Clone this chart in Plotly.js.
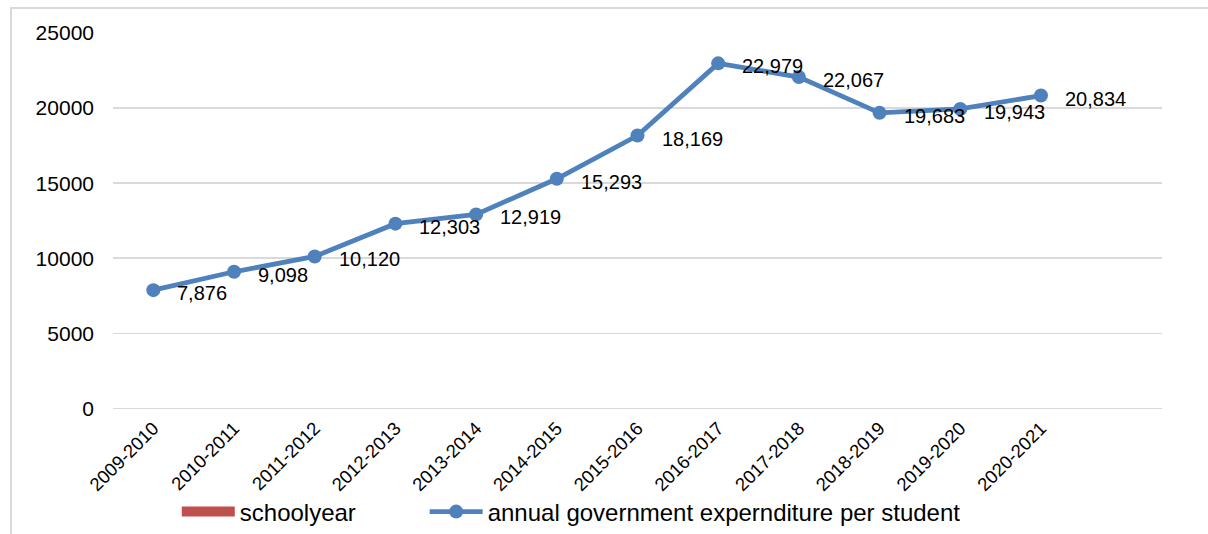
<!DOCTYPE html>
<html>
<head>
<meta charset="utf-8">
<script src="https://cdn.plot.ly/plotly-3.0.1.min.js"></script>
<style>
  html, body { margin: 0; padding: 0; background: #fff; }
  #wrap { position: relative; width: 1208px; height: 534px; overflow: hidden; }
  #chart { position: absolute; left: 0; top: 0; width: 1208px; height: 534px; }
  #frame { position: absolute; left: 10px; top: 7px; width: 1210px; height: 540px;
           border-left: 2px solid #d9d9d9; border-top: 2px solid #d9d9d9; pointer-events: none; }
</style>
</head>
<body>
<div id="wrap">
  <div id="chart"></div>
  <div id="frame"></div>
</div>
<script>
const schoolYears = ["2009-2010","2010-2011","2011-2012","2012-2013","2013-2014","2014-2015",
                     "2015-2016","2016-2017","2017-2018","2018-2019","2019-2020","2020-2021"];
const expenditurePerStudent = [7876, 9098, 10120, 12303, 12919, 15293,
                               18169, 22979, 22067, 19683, 19943, 20834];
const yTickValues = [0, 5000, 10000, 15000, 20000, 25000];
const seriesNames = ["schoolyear", "annual government expernditure per student"];

const BLUE = "#4F81BD";
const RED = "#C0504D";
const FONT = "Liberation Sans, Arial, sans-serif";

const traces = [
  {
    type: "scatter",
    mode: "lines",
    name: seriesNames[0],
    legend: "legend",
    x: schoolYears,
    y: schoolYears.map(() => null),
    line: { color: RED, width: 12 },
    hoverinfo: "skip"
  },
  {
    type: "scatter",
    mode: "lines+markers",
    name: seriesNames[1],
    legend: "legend2",
    x: schoolYears,
    y: expenditurePerStudent,
    line: { color: BLUE, width: 4.8 },
    marker: { color: BLUE, size: 14 }
  }
];

const annotations = schoolYears.map((c, i) => ({
  x: c,
  y: expenditurePerStudent[i],
  xref: "x", yref: "y",
  text: expenditurePerStudent[i].toLocaleString("en-US"),
  showarrow: false,
  xanchor: "left",
  yanchor: "middle",
  xshift: 22,
  yshift: -3,
  font: { family: FONT, size: 20, color: "#000" }
}));

const legendBase = {
  orientation: "h",
  xanchor: "left",
  y: -0.274,
  yanchor: "middle",
  itemwidth: 53,
  font: { family: FONT, size: 24, color: "#000" },
  bgcolor: "rgba(0,0,0,0)"
};

const layout = {
  width: 1208,
  height: 534,
  margin: { l: 113, r: 46, t: 33, b: 125, autoexpand: false },
  paper_bgcolor: "#ffffff",
  plot_bgcolor: "#ffffff",
  font: { family: FONT, color: "#000" },
  showlegend: true,
  xaxis: {
    type: "category",
    range: [-0.5, 12.5],
    automargin: false,
    showgrid: false,
    zeroline: false,
    showline: false,
    ticks: "",
    tickangle: -45,
    ticklabelstandoff: 4,
    tickfont: { family: FONT, size: 18.5, color: "#000" }
  },
  yaxis: {
    range: [-40, 25000],
    automargin: false,
    tickvals: yTickValues,
    ticktext: yTickValues.map(String),
    showgrid: true,
    gridcolor: "#d9d9d9",
    gridwidth: 1.5,
    zeroline: true,
    zerolinecolor: "#d9d9d9",
    zerolinewidth: 1.5,
    showline: false,
    ticks: "",
    ticklabelstandoff: 18,
    tickfont: { family: FONT, size: 21, color: "#000" }
  },
  legend: Object.assign({}, legendBase, { x: 0.0608 }),
  legend2: Object.assign({}, legendBase, { x: 0.2971 }),
  annotations: annotations
};

Plotly.newPlot("chart", traces, layout, { displayModeBar: false, staticPlot: true });
</script>
</body>
</html>
